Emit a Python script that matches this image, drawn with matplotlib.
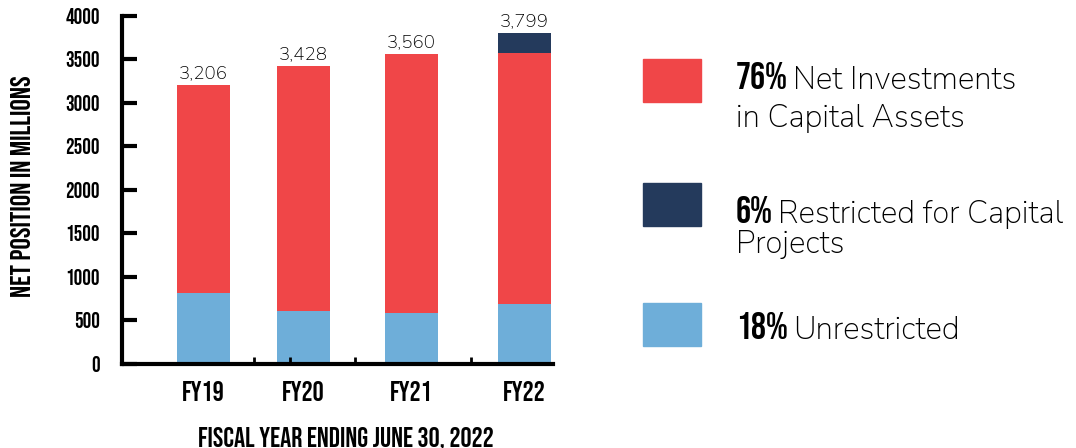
import matplotlib
matplotlib.use('Agg')
import matplotlib.pyplot as plt
from matplotlib.patches import Rectangle

# data (in millions)
years = ['FY19', 'FY20', 'FY21', 'FY22']
unrestricted = [815, 608, 585, 690]
net_invest = [2391, 2820, 2975, 2880]
restricted = [0, 0, 0, 229]
totals = ['3,206', '3,428', '3,560', '3,799']

legend_pct = ['76%', '6%', '18%']
legend_first = ['Net Investments', 'Restricted for Capital', 'Unrestricted']
legend_second = ['in Capital Assets', 'Projects', '']

red = '#F04648'
navy = '#243A5C'
blue = '#6EAED9'

cond = ['Bebas Neue', 'Fira Sans Extra Condensed', 'DejaVu Sans']
body = ['Nunito Sans', 'Lato', 'DejaVu Sans']

bar_x = [0, 1, 2.08, 3.21]   # slightly uneven spacing as in the original

fig = plt.figure(figsize=(10.76, 4.48), dpi=100)
ax = fig.add_axes([0.1134, 0.1875, 0.4006, 0.7768])

ax.bar(bar_x, unrestricted, width=0.53, color=blue)
ax.bar(bar_x, net_invest, width=0.53, bottom=unrestricted, color=red)
tops = [u + n for u, n in zip(unrestricted, net_invest)]
ax.bar(bar_x, restricted, width=0.53, bottom=tops, color=navy)

for x, t, r, lab in zip(bar_x, tops, restricted, totals):
    ax.annotate(lab, xy=(x, t + r), xytext=(0, 5), textcoords='offset points',
                ha='center', va='baseline', fontsize=13.5, family=body, fontweight='semibold')

ax.set_xlim(-0.815, 3.495)
ax.set_ylim(0, 4000)
ax.set_yticks(range(0, 4001, 500))
ax.set_xticks(bar_x)
ax.set_xticklabels(years, family=cond, fontsize=20)
ax.set_xticks([0.50, 0.865, 1.51, 2.675], minor=True)
for lab in ax.get_yticklabels():
    lab.set_family(cond)
    lab.set_fontsize(15.5)

ax.tick_params(axis='y', direction='in', length=11, width=3, pad=16)
ax.tick_params(axis='x', which='major', length=0, pad=12)
ax.tick_params(axis='x', which='minor', direction='in', length=5, width=2)

for s in ['top', 'right']:
    ax.spines[s].set_visible(False)
ax.spines['left'].set_linewidth(3)
ax.spines['bottom'].set_linewidth(3)

fig.text(21 / 1076, 1 - 186 / 448, 'NET POSITION IN MILLIONS', rotation=90, ha='center', va='center',
         family=cond, fontsize=20.5)
fig.text(346 / 1076, 1 - 438 / 448, 'FISCAL YEAR ENDING JUNE 30, 2022', ha='center', va='center',
         family=cond, fontsize=20)

# legend on the right (pixel positions of the reference layout)
sw_colors = [red, navy, blue]
sw_top = [59, 183, 303]
base1 = [89, 223, 339]
base2 = [127, 253, None]
pct_texts = []
for c, t, b1, b2, pct, l2 in zip(sw_colors, sw_top, base1, base2, legend_pct, legend_second):
    fig.patches.append(Rectangle((643 / 1076, 1 - (t + 43) / 448), 58 / 1076, 43 / 448,
                                 transform=fig.transFigure, color=c))
    p = fig.text(736 / 1076, 1 - b1 / 448, pct, ha='left', va='baseline', family=cond,
                 fontsize=27)
    pct_texts.append(p)
    if b2:
        fig.text(736 / 1076, 1 - b2 / 448, l2, ha='left', va='baseline', family=body,
                 fontsize=22.5)

# first-line label right after the bold percentage, on the same baseline
fig.canvas.draw()
r = fig.canvas.get_renderer()
for p, b1, l1 in zip(pct_texts, base1, legend_first):
    x1 = p.get_window_extent(r).x1
    fig.text((x1 + 5) / 1076, 1 - b1 / 448, l1, ha='left', va='baseline', family=body,
             fontsize=22.5)

fig.savefig('out.png', dpi=100)
